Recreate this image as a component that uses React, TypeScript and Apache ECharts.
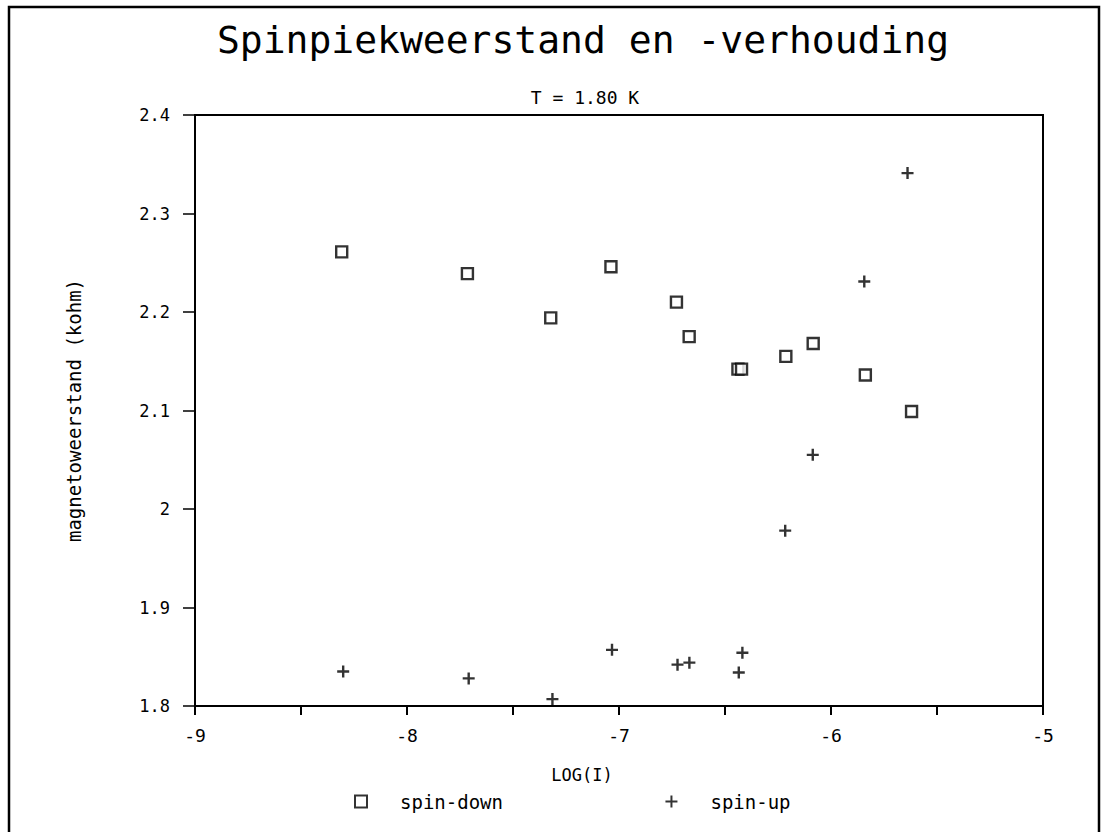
import React, { useEffect, useRef } from "react";
import * as echarts from "echarts";

const FONT = "'DejaVu Sans Mono', monospace";

const titleText = "Spinpiekweerstand en -verhouding";
const subtitleText = "T = 1.80 K";
const xName = "LOG(I)";
const yName = "magnetoweerstand (kohm)";
const seriesNames = ["spin-down", "spin-up"];

const xMin = -9;
const xMax = -5;
const yMin = 1.8;
const yMax = 2.4;

const spinDownX = [-8.308, -7.715, -7.322, -7.038, -6.729, -6.669, -6.439, -6.422, -6.213, -6.084, -5.838, -5.62];
const spinDownY = [2.261, 2.239, 2.194, 2.246, 2.21, 2.175, 2.142, 2.142, 2.155, 2.168, 2.136, 2.099];

const spinUpX = [-8.301, -7.709, -7.314, -7.033, -6.724, -6.668, -6.435, -6.418, -6.216, -6.086, -5.843, -5.639];
const spinUpY = [1.835, 1.828, 1.807, 1.857, 1.842, 1.844, 1.834, 1.854, 1.978, 2.055, 2.231, 2.341];

const PLUS = "path://M5,0L5,10M0,5L10,5";

export default function App() {
  const ref = useRef<HTMLDivElement>(null);
  useEffect(() => {
    document.body.style.margin = "0";
    const chart = echarts.init(ref.current!, null, { renderer: "svg" });
    const down = spinDownX.map((x, i) => [x, spinDownY[i]]);
    const up = spinUpX.map((x, i) => [x, spinUpY[i]]);
    chart.setOption({
      animation: false,
      backgroundColor: "#fff",
      textStyle: { fontFamily: FONT, color: "#000" },
      grid: {
        left: 195,
        top: 115,
        width: 848,
        height: 591,
        show: true,
        borderColor: "#000",
        borderWidth: 2,
        backgroundColor: "transparent",
      },
      graphic: [
        {
          type: "rect",
          shape: { x: 9, y: 7, width: 1090, height: 900 },
          style: { fill: "none", stroke: "#000", lineWidth: 2.5 },
          silent: true,
        },
        {
          type: "text",
          x: 583,
          y: 40,
          style: {
            text: titleText,
            font: `38px ${FONT}`,
            fill: "#000",
            textAlign: "center",
            textVerticalAlign: "middle",
          },
        },
        {
          type: "text",
          x: 585,
          y: 97,
          style: {
            text: subtitleText,
            font: `18px ${FONT}`,
            fill: "#000",
            textAlign: "center",
            textVerticalAlign: "middle",
          },
        },
      ],
      legend: {
        left: 349,
        top: 787,
        itemGap: 160,
        itemWidth: 12,
        itemHeight: 12,
        textStyle: { fontFamily: FONT, fontSize: 19, color: "#000", padding: [0, 0, 0, 28] },
        data: seriesNames,
      },
      xAxis: {
        type: "value",
        min: xMin,
        max: xMax,
        interval: 1,
        name: xName,
        nameLocation: "middle",
        nameGap: 60,
        nameTextStyle: { fontFamily: FONT, fontSize: 17, color: "#000", padding: [0, 74, 0, 0] },
        axisLine: { show: true, onZero: false, lineStyle: { color: "#000", width: 2 } },
        axisTick: { show: true, inside: false, length: 9, lineStyle: { color: "#000", width: 2 } },
        minorTick: { show: true, splitNumber: 2, length: 9, lineStyle: { color: "#000", width: 2 } },
        axisLabel: { margin: 20, fontFamily: FONT, fontSize: 18, color: "#000" },
        splitLine: { show: false },
      },
      yAxis: {
        type: "value",
        min: yMin,
        max: yMax,
        interval: 0.1,
        name: yName,
        nameLocation: "middle",
        nameGap: 112,
        nameTextStyle: { fontFamily: FONT, fontSize: 19, color: "#000" },
        axisLine: { show: true, onZero: false, lineStyle: { color: "#000", width: 2 } },
        axisTick: { show: true, inside: false, length: 12, lineStyle: { color: "#000", width: 1.5 } },
        axisLabel: { margin: 25, fontFamily: FONT, fontSize: 17, color: "#000" },
        splitLine: { show: false },
      },
      series: [
        {
          name: seriesNames[0],
          type: "scatter",
          symbol: "rect",
          symbolSize: 11,
          itemStyle: { color: "#fff", borderColor: "#000", borderWidth: 2.4 },
          data: down,
        },
        {
          name: seriesNames[1],
          type: "scatter",
          symbol: PLUS,
          symbolSize: 12,
          itemStyle: { color: "none", borderColor: "#000", borderWidth: 2.4 },
          data: up,
        },
      ],
    });
    return () => chart.dispose();
  }, []);
  return <div ref={ref} style={{ width: 1105, height: 832 }} />;
}
